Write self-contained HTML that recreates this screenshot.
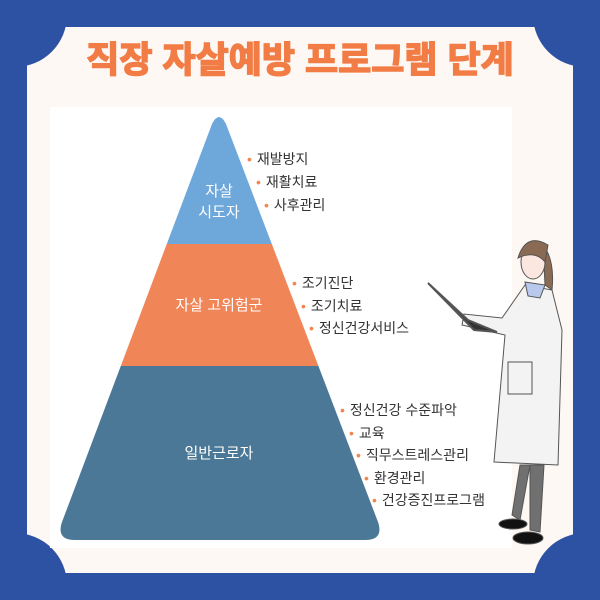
<!DOCTYPE html>
<html style="overflow:hidden"><head><meta charset="utf-8"><style>
html,body{margin:0;width:600px;height:600px;overflow:hidden}
body{background:#2e52a3;font-family:"Liberation Sans","Noto Sans CJK KR",sans-serif;position:relative}
.t{position:absolute;font-size:14px;line-height:16px;color:#333;white-space:nowrap}
.t b{color:#f0874f;font-weight:normal;margin-right:5px}
</style></head><body>
<svg width="600" height="600" style="position:absolute;left:0;top:0">
<rect x="27" y="27" width="546" height="546" fill="#fdf8f3"/>
<circle cx="15" cy="15" r="52" fill="#2e52a3"/>
<circle cx="585" cy="15" r="52" fill="#2e52a3"/>
<circle cx="15" cy="585" r="52" fill="#2e52a3"/>
<circle cx="585" cy="585" r="52" fill="#2e52a3"/>
<rect x="50" y="107" width="462" height="441" fill="#fff"/>
<text x="300" y="72" text-anchor="middle" font-size="36" font-weight="bold" fill="#f27c45" stroke="#f27c45" stroke-width="1.5" font-family="Liberation Sans,Noto Sans CJK KR,sans-serif">직장 자살예방 프로그램 단계</text>
<clipPath id="c"><path d="M212,124 Q219,110 226,124 L378,522 Q384,540 365,540 L75,540 Q56,540 62,522 Z"/></clipPath>
<g clip-path="url(#c)">
<rect x="50" y="110" width="340" height="134" fill="#6ea8db"/>
<rect x="50" y="244" width="340" height="122" fill="#f08558"/>
<rect x="50" y="366" width="340" height="180" fill="#4a7896"/>
</g>
<g font-size="15" fill="#fff" text-anchor="middle" font-family="Liberation Sans,Noto Sans CJK KR,sans-serif">
<text x="219" y="196">자살</text><text x="219" y="217">시도자</text>
<text x="219" y="310">자살 고위험군</text>
<text x="219" y="458">일반근로자</text>
</g>
<g stroke="#555" stroke-width="1">
<path d="M520,465 L512,515 L520,520 L530,465Z" fill="#707070"/>
<path d="M530,465 L530,530 L540,532 L544,465Z" fill="#707070"/>
<ellipse cx="513" cy="524" rx="14" ry="5" fill="#111"/>
<ellipse cx="528" cy="538" rx="15" ry="6" fill="#111"/>
<path d="M525,285 L552,290 L562,330 L558,465 L494,462 L505,335 L492,332 L462,325 L464,314 L502,318 Z" fill="#f3f3f3"/>
<path d="M525,282 L545,285 L540,298 L528,296Z" fill="#b9c9ee"/>
<path d="M543,245 Q555,260 552,290 L545,285Z" fill="#8a6a52"/>
<ellipse cx="533" cy="262" rx="12" ry="17" fill="#fbe6e0"/>
<path d="M518,258 Q526,232 548,245 L545,262 Q535,250 518,258Z" fill="#8a6a52"/>
<path d="M428,283 L474,330 L497,332 L468,320Z" fill="#333" stroke-width="2"/>
<rect x="508" y="362" width="24" height="32" fill="#f3f3f3"/>
</g>
</svg>
<div class="t" style="left:247px;top:151px"><b>•</b>재발방지</div>
<div class="t" style="left:256px;top:174px"><b>•</b>재활치료</div>
<div class="t" style="left:264px;top:197px"><b>•</b>사후관리</div>
<div class="t" style="left:292px;top:275px"><b>•</b>조기진단</div>
<div class="t" style="left:301px;top:298px"><b>•</b>조기치료</div>
<div class="t" style="left:309px;top:320px"><b>•</b>정신건강서비스</div>
<div class="t" style="left:340px;top:402px"><b>•</b>정신건강 수준파악</div>
<div class="t" style="left:349px;top:425px"><b>•</b>교육</div>
<div class="t" style="left:356px;top:447px"><b>•</b>직무스트레스관리</div>
<div class="t" style="left:364px;top:470px"><b>•</b>환경관리</div>
<div class="t" style="left:372px;top:492px"><b>•</b>건강증진프로그램</div>
</body></html>
